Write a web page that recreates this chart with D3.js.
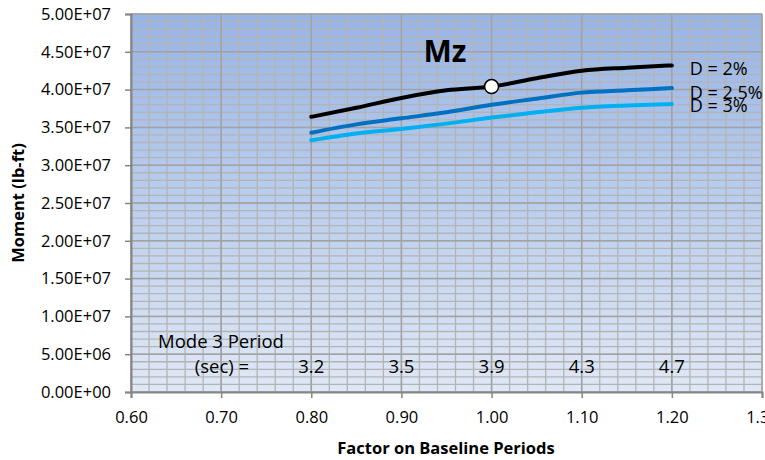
<!DOCTYPE html>
<html>
<head>
<meta charset="utf-8">
<script src="https://cdn.jsdelivr.net/npm/d3@7"></script>
<style>
  body { margin: 0; background: #fff; }
  svg { font-family: "Open Sans", Lato, sans-serif; }
</style>
</head>
<body>
<div id="chart"></div>
<script>
// factor on baseline periods
var factors = [0.80, 0.85, 0.90, 0.95, 1.00, 1.05, 1.10, 1.15, 1.20];
// moment values (lb-ft) per damping ratio
var damp2 = [3.64e7, 3.76e7, 3.89e7, 3.99e7, 4.04e7, 4.15e7, 4.25e7, 4.29e7, 4.32e7];
var damp25 = [3.43e7, 3.54e7, 3.62e7, 3.70e7, 3.80e7, 3.88e7, 3.96e7, 3.99e7, 4.02e7];
var damp3 = [3.33e7, 3.42e7, 3.48e7, 3.55e7, 3.63e7, 3.70e7, 3.76e7, 3.79e7, 3.81e7];
var seriesNames = ["D = 2%", "D = 2.5%", "D = 3%"];
var seriesColors = ["#000000", "#0070c0", "#00b0f0"];
// mode 3 period annotations
var periodFactors = [0.80, 0.90, 1.00, 1.10, 1.20];
var periodValues = ["3.2", "3.5", "3.9", "4.3", "4.7"];
var xTicks = [0.6, 0.7, 0.8, 0.9, 1.0, 1.1, 1.2, 1.3];
var yTicks = [0, 5e6, 1e7, 1.5e7, 2e7, 2.5e7, 3e7, 3.5e7, 4e7, 4.5e7, 5e7];
var marker = { x: 1.00, y: 4.04e7 };

var W = 765, H = 460;
var pLeft = 131, pRight = 762, pTop = 14, pBottom = 392;

var svg = d3.select("#chart").append("svg")
    .attr("width", W)
    .attr("height", H);

var x = d3.scaleLinear().domain([0.6, 1.3]).range([pLeft, pRight]);
var y = d3.scaleLinear().domain([0, 5e7]).range([pBottom, pTop]);

var grad = svg.append("defs").append("linearGradient")
    .attr("id", "bg").attr("x1", 0).attr("y1", 0).attr("x2", 0).attr("y2", 1);
grad.append("stop").attr("offset", "0%").attr("stop-color", "#97b4e6");
grad.append("stop").attr("offset", "100%").attr("stop-color", "#dfe8f6");

svg.append("rect")
    .attr("x", pLeft).attr("y", pTop)
    .attr("width", pRight - pLeft).attr("height", pBottom - pTop)
    .attr("fill", "url(#bg)");

// minor grid
var minorX = d3.range(0, 36).map(function (i) { return 0.6 + i * 0.02; });
var minorY = d3.range(0, 51).map(function (i) { return i * 1e6; });
svg.append("g").selectAll("line").data(minorX).enter().append("line")
    .attr("x1", function (d) { return x(d); }).attr("x2", function (d) { return x(d); })
    .attr("y1", pTop).attr("y2", pBottom)
    .attr("stroke", "#b4b4b4").attr("stroke-width", 1.3);
svg.append("g").selectAll("line").data(minorY).enter().append("line")
    .attr("y1", function (d) { return y(d); }).attr("y2", function (d) { return y(d); })
    .attr("x1", pLeft).attr("x2", pRight)
    .attr("stroke", "#b4b4b4").attr("stroke-width", 1.3);
// major grid
svg.append("g").selectAll("line").data(xTicks).enter().append("line")
    .attr("x1", function (d) { return x(d); }).attr("x2", function (d) { return x(d); })
    .attr("y1", pTop).attr("y2", pBottom)
    .attr("stroke", "#a2a2a2").attr("stroke-width", 1.5);
svg.append("g").selectAll("line").data(yTicks).enter().append("line")
    .attr("y1", function (d) { return y(d); }).attr("y2", function (d) { return y(d); })
    .attr("x1", pLeft).attr("x2", pRight)
    .attr("stroke", "#a2a2a2").attr("stroke-width", 1.5);

// axes
var yAxis = svg.append("g")
    .attr("transform", "translate(" + pLeft + ",0)")
    .call(d3.axisLeft(y).tickValues(yTicks).tickSize(6).tickPadding(14)
        .tickFormat(function (d) {
            return d3.format(".2e")(d).replace("e+", "E+0").toUpperCase();
        }));
var xAxis = svg.append("g")
    .attr("transform", "translate(0," + pBottom + ")")
    .call(d3.axisBottom(x).tickValues(xTicks).tickSize(6).tickPadding(13)
        .tickFormat(d3.format(".2f")));
[yAxis, xAxis].forEach(function (a) {
    a.select(".domain").attr("stroke", "#868686").attr("stroke-width", 2);
    a.selectAll(".tick line").attr("stroke", "#868686").attr("stroke-width", 1.5);
    a.selectAll("text").attr("fill", "#000").style("font-size", "16.5px")
        .style("font-family", "'Open Sans', Lato, sans-serif");
});

// lines
var line = d3.line()
    .x(function (d) { return x(d[0]); })
    .y(function (d) { return y(d[1]); })
    .curve(d3.curveMonotoneX);
[damp2, damp25, damp3].forEach(function (s, i) {
    svg.append("path")
        .datum(factors.map(function (f, j) { return [f, s[j]]; }))
        .attr("d", line)
        .attr("fill", "none")
        .attr("stroke", seriesColors[i])
        .attr("stroke-width", 4)
        .attr("stroke-linecap", "round");
});

svg.append("circle")
    .attr("cx", x(marker.x)).attr("cy", y(marker.y)).attr("r", 7)
    .attr("fill", "#fff").attr("stroke", "#000").attr("stroke-width", 1.5);

// series labels
var labelY = [75, 99, 112];
svg.append("g").selectAll("text").data(seriesNames).enter().append("text")
    .attr("x", x(1.2) + 18)
    .attr("y", function (d, i) { return labelY[i]; })
    .style("font-size", "18px")
    .text(function (d) { return d; });

// title
svg.append("text")
    .attr("x", 445).attr("y", 62)
    .attr("text-anchor", "middle")
    .style("font-size", "30px").style("font-weight", "bold")
    .text("Mz");

// period annotation
svg.append("text").attr("x", 221).attr("y", 348).attr("text-anchor", "middle")
    .style("font-size", "18.5px").text("Mode 3 Period");
svg.append("text").attr("x", 222).attr("y", 373).attr("text-anchor", "middle")
    .style("font-size", "18.5px").text("(sec) =");
svg.append("g").selectAll("text").data(periodValues).enter().append("text")
    .attr("x", function (d, i) { return x(periodFactors[i]); })
    .attr("y", 373)
    .attr("text-anchor", "middle")
    .style("font-size", "18.5px")
    .text(function (d) { return d; });

// axis titles
svg.append("text")
    .attr("x", 446).attr("y", 454)
    .attr("text-anchor", "middle")
    .style("font-size", "16.5px").style("font-weight", "bold")
    .text("Factor on Baseline Periods");
svg.append("text")
    .attr("transform", "translate(24," + ((pTop + pBottom) / 2) + ") rotate(-90)")
    .attr("text-anchor", "middle")
    .style("font-size", "16.5px").style("font-weight", "bold")
    .text("Moment (lb-ft)");
</script>
</body>
</html>
